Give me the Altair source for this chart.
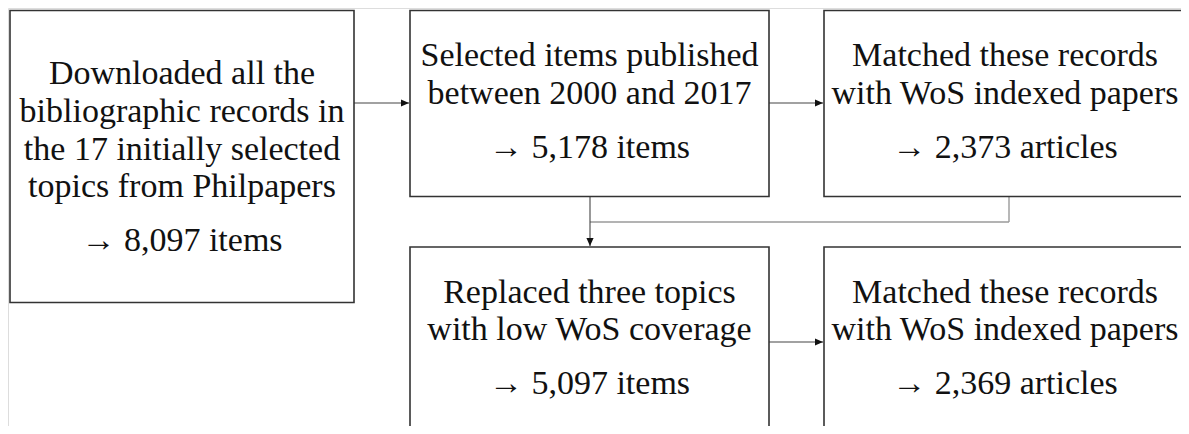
import altair as alt
import pandas as pd

# ---- content ----
box_lines = [
    ["Downloaded all the", "bibliographic records in", "the 17 initially selected", "topics from Philpapers"],
    ["Selected items published", "between 2000 and 2017"],
    ["Matched these records", "with WoS indexed papers"],
    ["Replaced three topics", "with low WoS coverage"],
    ["Matched these records", "with WoS indexed papers"],
]
box_results = ["\u2192 8,097 items", "\u2192 5,178 items", "\u2192 2,373 articles",
               "\u2192 5,097 items", "\u2192 2,369 articles"]

# ---- diagram geometry (page pixel coordinates) ----
box_x0 = [10, 410, 824, 410, 824]
box_x1 = [354, 769, 1188, 769, 1188]
box_y0 = [10.5, 10.5, 10.5, 247, 247]
box_y1 = [302.5, 196.5, 196.5, 460, 460]
first_baseline = [84, 66, 66, 302.5, 302.5]
line_step = 37.8
result_gap = 54

arrow_x0 = [354, 769, 769, 590]
arrow_x1 = [409, 823, 823, 590]
arrow_y0 = [103, 103, 342, 197]
arrow_y1 = [103, 103, 342, 246]
arrow_dir = ["right", "right", "right", "down"]

gray_x0 = [1009, 590]
gray_x1 = [1009, 1009]
gray_y0 = [197, 222]
gray_y1 = [222, 222]

W, H = 1173, 418
xs = alt.Scale(domain=[8, 8 + W], range=[0, W])
ys = alt.Scale(domain=[8 + H, 8], range=[H, 0])

boxes = pd.DataFrame({"x0": box_x0, "x1": box_x1, "y0": box_y0, "y1": box_y1})

text_rows = []
for i, lines in enumerate(box_lines):
    cx = (box_x0[i] + min(box_x1[i], 1186)) / 2
    for j, t in enumerate(lines):
        text_rows.append({"x": cx, "y": first_baseline[i] + j * line_step, "t": t})
    text_rows.append({"x": cx, "y": first_baseline[i] + (len(lines) - 1) * line_step + result_gap,
                      "t": box_results[i]})
texts = pd.DataFrame(text_rows)

arrows = pd.DataFrame({"x0": arrow_x0, "x1": arrow_x1, "y0": arrow_y0, "y1": arrow_y1, "d": arrow_dir})
grays = pd.DataFrame({"x0": gray_x0, "x1": gray_x1, "y0": gray_y0, "y1": gray_y1})

X = lambda f: alt.X(f, type="quantitative", scale=xs, axis=None)
Y = lambda f: alt.Y(f, type="quantitative", scale=ys, axis=None)

rects = alt.Chart(boxes).mark_rect(fill=None, stroke="#333333", strokeWidth=1.6, clip=True).encode(
    x=X("x0"), x2="x1", y=Y("y0"), y2="y1")

gray_lines = alt.Chart(grays).mark_rule(color="#9a9a9a", strokeWidth=1.4).encode(
    x=X("x0"), x2="x1", y=Y("y0"), y2="y1")

arrow_lines = alt.Chart(arrows).mark_rule(color="#444444", strokeWidth=1.1).encode(
    x=X("x0"), x2="x1", y=Y("y0"), y2="y1")

head_right = alt.Chart(arrows).transform_filter(alt.datum.d == "right").mark_point(
    shape="M0,0 L-2,-0.9 L-2,0.9 Z", size=64, filled=True, color="#111111", opacity=1).encode(
    x=X("x1"), y=Y("y1"))
head_down = alt.Chart(arrows).transform_filter(alt.datum.d == "down").mark_point(
    shape="M0,0 L-0.9,-2 L0.9,-2 Z", size=64, filled=True, color="#111111", opacity=1).encode(
    x=X("x1"), y=Y("y1"))

labels = alt.Chart(texts).mark_text(font="Liberation Serif", fontSize=34, color="#111111",
                                    align="center", baseline="alphabetic").encode(
    x=X("x"), y=Y("y"), text="t:N")

chart = alt.layer(gray_lines, arrow_lines, rects, head_right, head_down, labels).properties(
    width=W, height=H, padding=0, autosize=alt.AutoSizeParams(type="none")
).configure_view(stroke=None).configure(background="white")

chart.save("out.html", embed_options={"renderer": "svg", "actions": False})
